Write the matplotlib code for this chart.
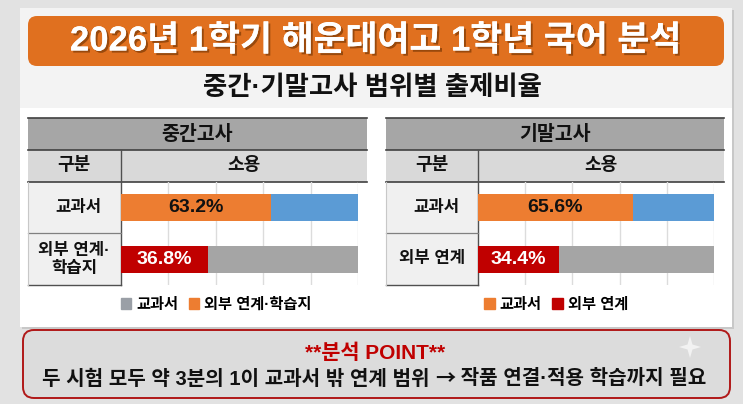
import matplotlib
matplotlib.use('Agg')
import matplotlib.pyplot as plt
import matplotlib.patheffects as pe
from matplotlib.patches import FancyBboxPatch, Rectangle, Patch, Polygon

# Liberation Sans first so that the middle dot and digits stay narrow and bold
LATIN_FIRST = ['Liberation Sans', 'Noto Sans CJK KR', 'DejaVu Sans']
CJK_FIRST = ['Noto Sans CJK KR', 'DejaVu Sans']
plt.rcParams['font.family'] = LATIN_FIRST
plt.rcParams['font.weight'] = 'bold'

# ── data ────────────────────────────────────────────────────────────────
title = '2026년 1학기 해운대여고 1학년 국어 분석'
subtitle = '중간·기말고사 범위별 출제비율'
exams = ['중간고사', '기말고사']
col_headers = ['구분', '소용']
mid_rows = ['교과서', '외부 연계·\n학습지']
final_rows = ['교과서', '외부 연계']
mid_values = [63.2, 36.8]
final_values = [65.6, 34.4]
mid_legend = ['교과서', '외부 연계·학습지']
final_legend = ['교과서', '외부 연계']
point_title = '**분석 POINT**'
point_parts = ['두 시험 모두 약 3분의 1이 교과서 밖 연계 범위 ', '→', ' 작품 연결·적용 학습까지 필요']

ORANGE = '#ED7D31'
BLUE = '#5B9BD5'
RED = '#C00000'
GRAY = '#A5A5A5'
WEIGHT = 'heavy'
W, H = 743, 404

fig = plt.figure(figsize=(W / 100, H / 100), dpi=100)
bg = fig.add_axes([0, 0, 1, 1])
bg.set_xlim(0, W)
bg.set_ylim(H, 0)
bg.axis('off')
fig.patch.set_facecolor('#E2E2E2')

# panel
bg.add_patch(Rectangle((22, 10), 712, 319, fc='#C8C8C8', ec='none', zorder=0))
bg.add_patch(Rectangle((20, 8), 712, 319, fc='#F3F3F3', ec='none', zorder=1))
bg.add_patch(Rectangle((20, 108), 712, 219, fc='white', ec='none', zorder=1))

# title banner
bg.add_patch(FancyBboxPatch((28, 16), 696, 50, boxstyle='round,pad=0,rounding_size=9',
                            fc='#E0701F', ec='none', zorder=2))
bg.text(376, 41, title, ha='center', va='center', color='white', fontsize=25,
        fontweight=WEIGHT, zorder=3,
        path_effects=[pe.withSimplePatchShadow(offset=(1.5, -1.5), shadow_rgbFace='#6B3000', alpha=0.6),
                      pe.Normal()])
bg.text(372, 88, subtitle, ha='center', va='center', color='#111111', fontsize=19,
        fontweight=WEIGHT, zorder=3)


def draw_table(x0, x1, xdiv, xbar1, exam, rows, values, legend_labels, legend_colors, leg_cx):
    # header rows
    bg.add_patch(Rectangle((x0, 118), x1 - x0, 32, fc='#A6A6A6', ec='none', zorder=2))
    bg.add_patch(Rectangle((x0, 150), x1 - x0, 32, fc='#D9D9D9', ec='none', zorder=2))
    bg.add_patch(Rectangle((x0, 182), xdiv - x0, 103, fc='#F0F0F0', ec='none', zorder=2))
    for y in (118, 150, 182):
        bg.plot([x0, x1], [y, y], color='#404040', lw=1.2, zorder=3)
    bg.plot([xdiv, xdiv], [150, 285], color='#505050', lw=1.0, zorder=4)
    bg.plot([x0, xdiv], [233, 233], color='#808080', lw=0.9, zorder=4)
    bg.plot([x0, xdiv], [285, 285], color='#505050', lw=1.0, zorder=4)
    bg.plot([x0, x0], [182, 285], color='#C8C8C8', lw=0.8, zorder=4)
    bg.text((x0 + x1) / 2, 134, exam, ha='center', va='center', fontsize=14,
            fontweight=WEIGHT, color='#111111', zorder=5)
    bg.text((x0 + xdiv) / 2, 166, col_headers[0], ha='center', va='center', fontsize=13,
            fontweight=WEIGHT, color='#111111', zorder=5)
    bg.text((xdiv + x1) / 2, 166, col_headers[1], ha='center', va='center', fontsize=13,
            fontweight=WEIGHT, color='#111111', zorder=5)
    for i, lab in enumerate(rows):
        dx = 4 if i == 0 else 0
        bg.text((x0 + xdiv) / 2 + dx, 207.5 + 51.5 * i, lab, ha='center', va='center',
                fontsize=12, fontweight=WEIGHT, color='#111111', linespacing=1.25, zorder=5)

    # bar chart
    ax = fig.add_axes([xdiv / W, 1 - 285 / H, (xbar1 - xdiv) / W, 103 / H])
    ax.set_zorder(3)
    ax.patch.set_alpha(0)
    ypos = list(range(len(values)))
    rest = [100 - v for v in values]
    main_colors = [ORANGE, RED]
    rest_colors = [BLUE, GRAY]
    ax.barh(ypos, values, height=0.53, color=main_colors, zorder=3)
    ax.barh(ypos, rest, left=values, height=0.53, color=rest_colors, zorder=3)
    for i, v in enumerate(values):
        ax.text(v / 2, i, f'{v}%', ha='center', va='center', fontsize=14,
                fontweight=WEIGHT, color='#111111' if i == 0 else 'white', zorder=4)
    ax.set_xlim(0, 100)
    ax.set_ylim(1.5, -0.5)
    ax.set_xticks([20, 40, 60, 80, 100])
    ax.set_yticks([])
    ax.grid(axis='x', color='#DCDCDC', lw=1.0, zorder=0)
    ax.tick_params(length=0, labelbottom=False)
    for s in ax.spines.values():
        s.set_visible(False)

    handles = [Patch(color=c, label=l) for c, l in zip(legend_colors, legend_labels)]
    leg = ax.legend(handles=handles, loc='center', ncol=2, frameon=False,
                    bbox_to_anchor=((leg_cx - xdiv) / (xbar1 - xdiv), -0.195),
                    fontsize=11, handlelength=0.7, handleheight=0.7,
                    handletextpad=0.3, columnspacing=0.7, borderaxespad=0)
    for t in leg.get_texts():
        t.set_fontweight(WEIGHT)


draw_table(28, 367, 120.5, 358, exams[0], mid_rows, mid_values,
           mid_legend, ['#9A9FA6', ORANGE], 216)
draw_table(386, 724, 478, 714, exams[1], final_rows, final_values,
           final_legend, [ORANGE, RED], 556)

# analysis point box
bg.add_patch(FancyBboxPatch((23, 330), 707, 68, boxstyle='round,pad=0,rounding_size=11',
                            fc='#DCDCDC', ec='#B01818', lw=1.4, zorder=2))
star_x, star_y, r = 690, 347, 11
bg.add_patch(Polygon([(star_x, star_y - r), (star_x + 2.5, star_y - 2.5), (star_x + r, star_y),
                      (star_x + 2.5, star_y + 2.5), (star_x, star_y + r), (star_x - 2.5, star_y + 2.5),
                      (star_x - r, star_y), (star_x - 2.5, star_y - 2.5)],
                     fc='#F2F2F2', ec='none', zorder=3))
bg.text(375, 353, point_title, ha='center', va='center', fontsize=15,
        fontweight=WEIGHT, color='#C00000', zorder=4)

# bottom line in three pieces so the arrow comes from the CJK font
fams = [LATIN_FIRST, CJK_FIRST, LATIN_FIRST]
pieces = [bg.text(0, 379, p, ha='left', va='center', fontsize=14.5, family=f,
                  fontweight=WEIGHT, color='#111111', zorder=4)
          for p, f in zip(point_parts, fams)]
renderer = fig.canvas.get_renderer()
widths = [t.get_window_extent(renderer).width for t in pieces]
x = 374 - sum(widths) / 2
for t, w in zip(pieces, widths):
    t.set_x(x)
    x += w

fig.savefig('out.png', dpi=100, facecolor=fig.get_facecolor())
